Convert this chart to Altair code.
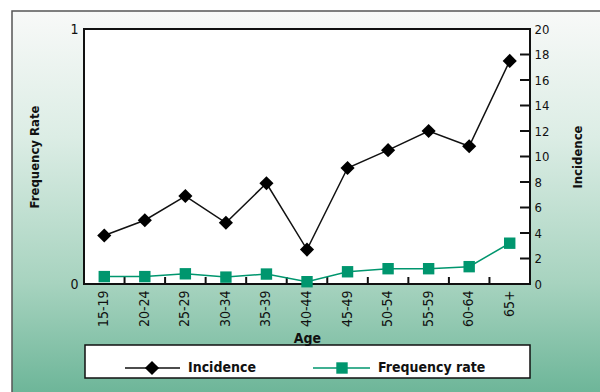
import altair as alt
import pandas as pd

# Values by age group
ages = ["15-19", "20-24", "25-29", "30-34", "35-39", "40-44",
        "45-49", "50-54", "55-59", "60-64", "65+"]
incidence = [3.8, 5.0, 6.9, 4.8, 7.9, 2.7, 9.1, 10.5, 12.0, 10.8, 17.5]
frequency_rate = [0.029, 0.029, 0.040, 0.027, 0.039, 0.009,
                  0.048, 0.060, 0.060, 0.068, 0.160]
incidence_ticks = list(range(0, 21, 2))
rate_ticks = [0, 1]

W, H = 446, 255
FONT = "DejaVu Sans Condensed, Liberation Sans, sans-serif"
GREEN = "#00966e"
INK = "#111111"

df = pd.DataFrame({"Age": ages, "Incidence": incidence,
                   "Frequency rate": frequency_rate})
tick_df = pd.DataFrame({"tick": incidence_ticks})
one = alt.Data(values=[{"k": 0}])

x_enc = alt.X(
    "Age:N", sort=ages, title="Age",
    scale=alt.Scale(type="band", paddingInner=0, paddingOuter=0),
    axis=alt.Axis(labelAngle=270, ticks=False, domain=False, labelPadding=6,
                  labelFontSize=14, labelFont=FONT, labelColor=INK,
                  titleFont=FONT, titleFontSize=14, titleFontWeight="bold",
                  titlePadding=5, titleColor=INK, zindex=2),
)

# Page decoration: gradient panel, title, plot frame
panel = alt.Chart(one).mark_rect(
    fill=alt.Gradient(gradient="linear", x1=0, x2=0, y1=0, y2=1,
                      stops=[alt.GradientStop(offset=0, color="#f8f9f8"),
                             alt.GradientStop(offset=0.3, color="#dcede5"),
                             alt.GradientStop(offset=0.65, color="#a7d3bf"),
                             alt.GradientStop(offset=1, color="#5aac8c")]),
    stroke="#555555", strokeWidth=1.5,
).encode(x=alt.value(-72), x2=alt.value(560), y=alt.value(-18), y2=alt.value(400))

title = alt.Chart(one).mark_text(
    text="Figure 1: Incidence and Rate by age group", font=FONT,
    fontSize=22, fontWeight="bold", color=INK, baseline="alphabetic",
    align="center",
).encode(x=alt.value(168), y=alt.value(-33))

frame = alt.Chart(one).mark_rect(fill="white", stroke=INK, strokeWidth=2).encode(
    x=alt.value(0), x2=alt.value(W), y=alt.value(0), y2=alt.value(H))

# Inward ticks on the category axis, at band boundaries
x_ticks = alt.Chart(df).mark_rule(color=INK, strokeWidth=2).encode(
    x=alt.X("Age:N", sort=ages, bandPosition=0,
            scale=alt.Scale(type="band", paddingInner=0, paddingOuter=0)),
    y=alt.value(H - 7), y2=alt.value(H),
)

# Frequency rate on the left axis
rate_y = alt.Y("Frequency rate:Q", title="Frequency Rate",
               scale=alt.Scale(domain=[0, 1], nice=False),
               axis=alt.Axis(orient="left", values=rate_ticks, format="d",
                             ticks=False, domain=False, grid=False,
                             labelPadding=6, labelFontSize=14, labelFont=FONT,
                             labelColor=INK, titleFont=FONT, titleFontSize=13,
                             titleFontWeight="bold", titlePadding=28,
                             titleColor=INK, zindex=2))
rate_line = alt.Chart(df).mark_line(color=GREEN, strokeWidth=1.5).encode(
    x=x_enc, y=rate_y)
rate_pts = alt.Chart(df).mark_point(shape="square", filled=True, opacity=1,
                                    color=GREEN, size=130).encode(x=x_enc, y=rate_y)
rate_layer = alt.layer(rate_line, rate_pts)

# Incidence on the right axis
inc_scale = alt.Scale(domain=[0, 20], nice=False)
inc_axis = alt.Axis(orient="right", values=incidence_ticks, ticks=False,
                    domain=False, grid=False, labelPadding=4,
                    labelOverlap=False, labelFontSize=13, labelFont=FONT,
                    labelColor=INK, titleFont=FONT, titleFontSize=13,
                    titleFontWeight="bold", titlePadding=36,
                    titleAngle=270, titleColor=INK, zindex=2)
inc_y = alt.Y("Incidence:Q", title="Incidence", scale=inc_scale, axis=inc_axis)
inc_ticks = alt.Chart(tick_df).mark_rule(color=INK, strokeWidth=2).encode(
    y=alt.Y("tick:Q", title="Incidence", scale=inc_scale, axis=inc_axis),
    x=alt.value(W - 10), x2=alt.value(W))
inc_line = alt.Chart(df).mark_line(color=INK, strokeWidth=1.5).encode(
    x=x_enc, y=inc_y)
inc_pts = alt.Chart(df).mark_point(shape="diamond", filled=True, opacity=1,
                                   color="black", size=200).encode(x=x_enc, y=inc_y)
inc_layer = alt.layer(inc_line, inc_pts, inc_ticks)

# Legend box drawn below the plot
leg_y = 339
legend_box = alt.Chart(one).mark_rect(fill="white", stroke=INK, strokeWidth=1.5).encode(
    x=alt.value(1), x2=alt.value(W), y=alt.value(316), y2=alt.value(349))
leg_line1 = alt.Chart(one).mark_rule(color=INK, strokeWidth=1.5).encode(
    x=alt.value(41), x2=alt.value(96), y=alt.value(leg_y))
leg_mark1 = alt.Chart(one).mark_point(shape="diamond", filled=True, opacity=1,
                                      color="black", size=200).encode(
    x=alt.value(68), y=alt.value(leg_y))
leg_text1 = alt.Chart(one).mark_text(text="Incidence", font=FONT, fontSize=14,
                                     fontWeight="bold", align="left", color=INK).encode(
    x=alt.value(104), y=alt.value(leg_y))
leg_line2 = alt.Chart(one).mark_rule(color=GREEN, strokeWidth=1.5).encode(
    x=alt.value(229), x2=alt.value(286), y=alt.value(leg_y))
leg_mark2 = alt.Chart(one).mark_point(shape="square", filled=True, opacity=1,
                                      color=GREEN, size=130).encode(
    x=alt.value(258), y=alt.value(leg_y))
leg_text2 = alt.Chart(one).mark_text(text="Frequency rate", font=FONT, fontSize=14,
                                     fontWeight="bold", align="left", color=INK).encode(
    x=alt.value(294), y=alt.value(leg_y))

chart = alt.layer(
    panel, title, frame, x_ticks, rate_layer, inc_layer,
    legend_box, leg_line1, leg_mark1, leg_text1, leg_line2, leg_mark2, leg_text2,
).resolve_scale(y="independent").properties(
    width=W, height=H,
    autosize=alt.AutoSizeParams(type="none"),
    padding={"left": 84, "top": 29, "right": 70, "bottom": 108},
    background="white",
).configure_view(stroke=None)

chart.save("out.html", embed_options={"renderer": "svg", "actions": False})
